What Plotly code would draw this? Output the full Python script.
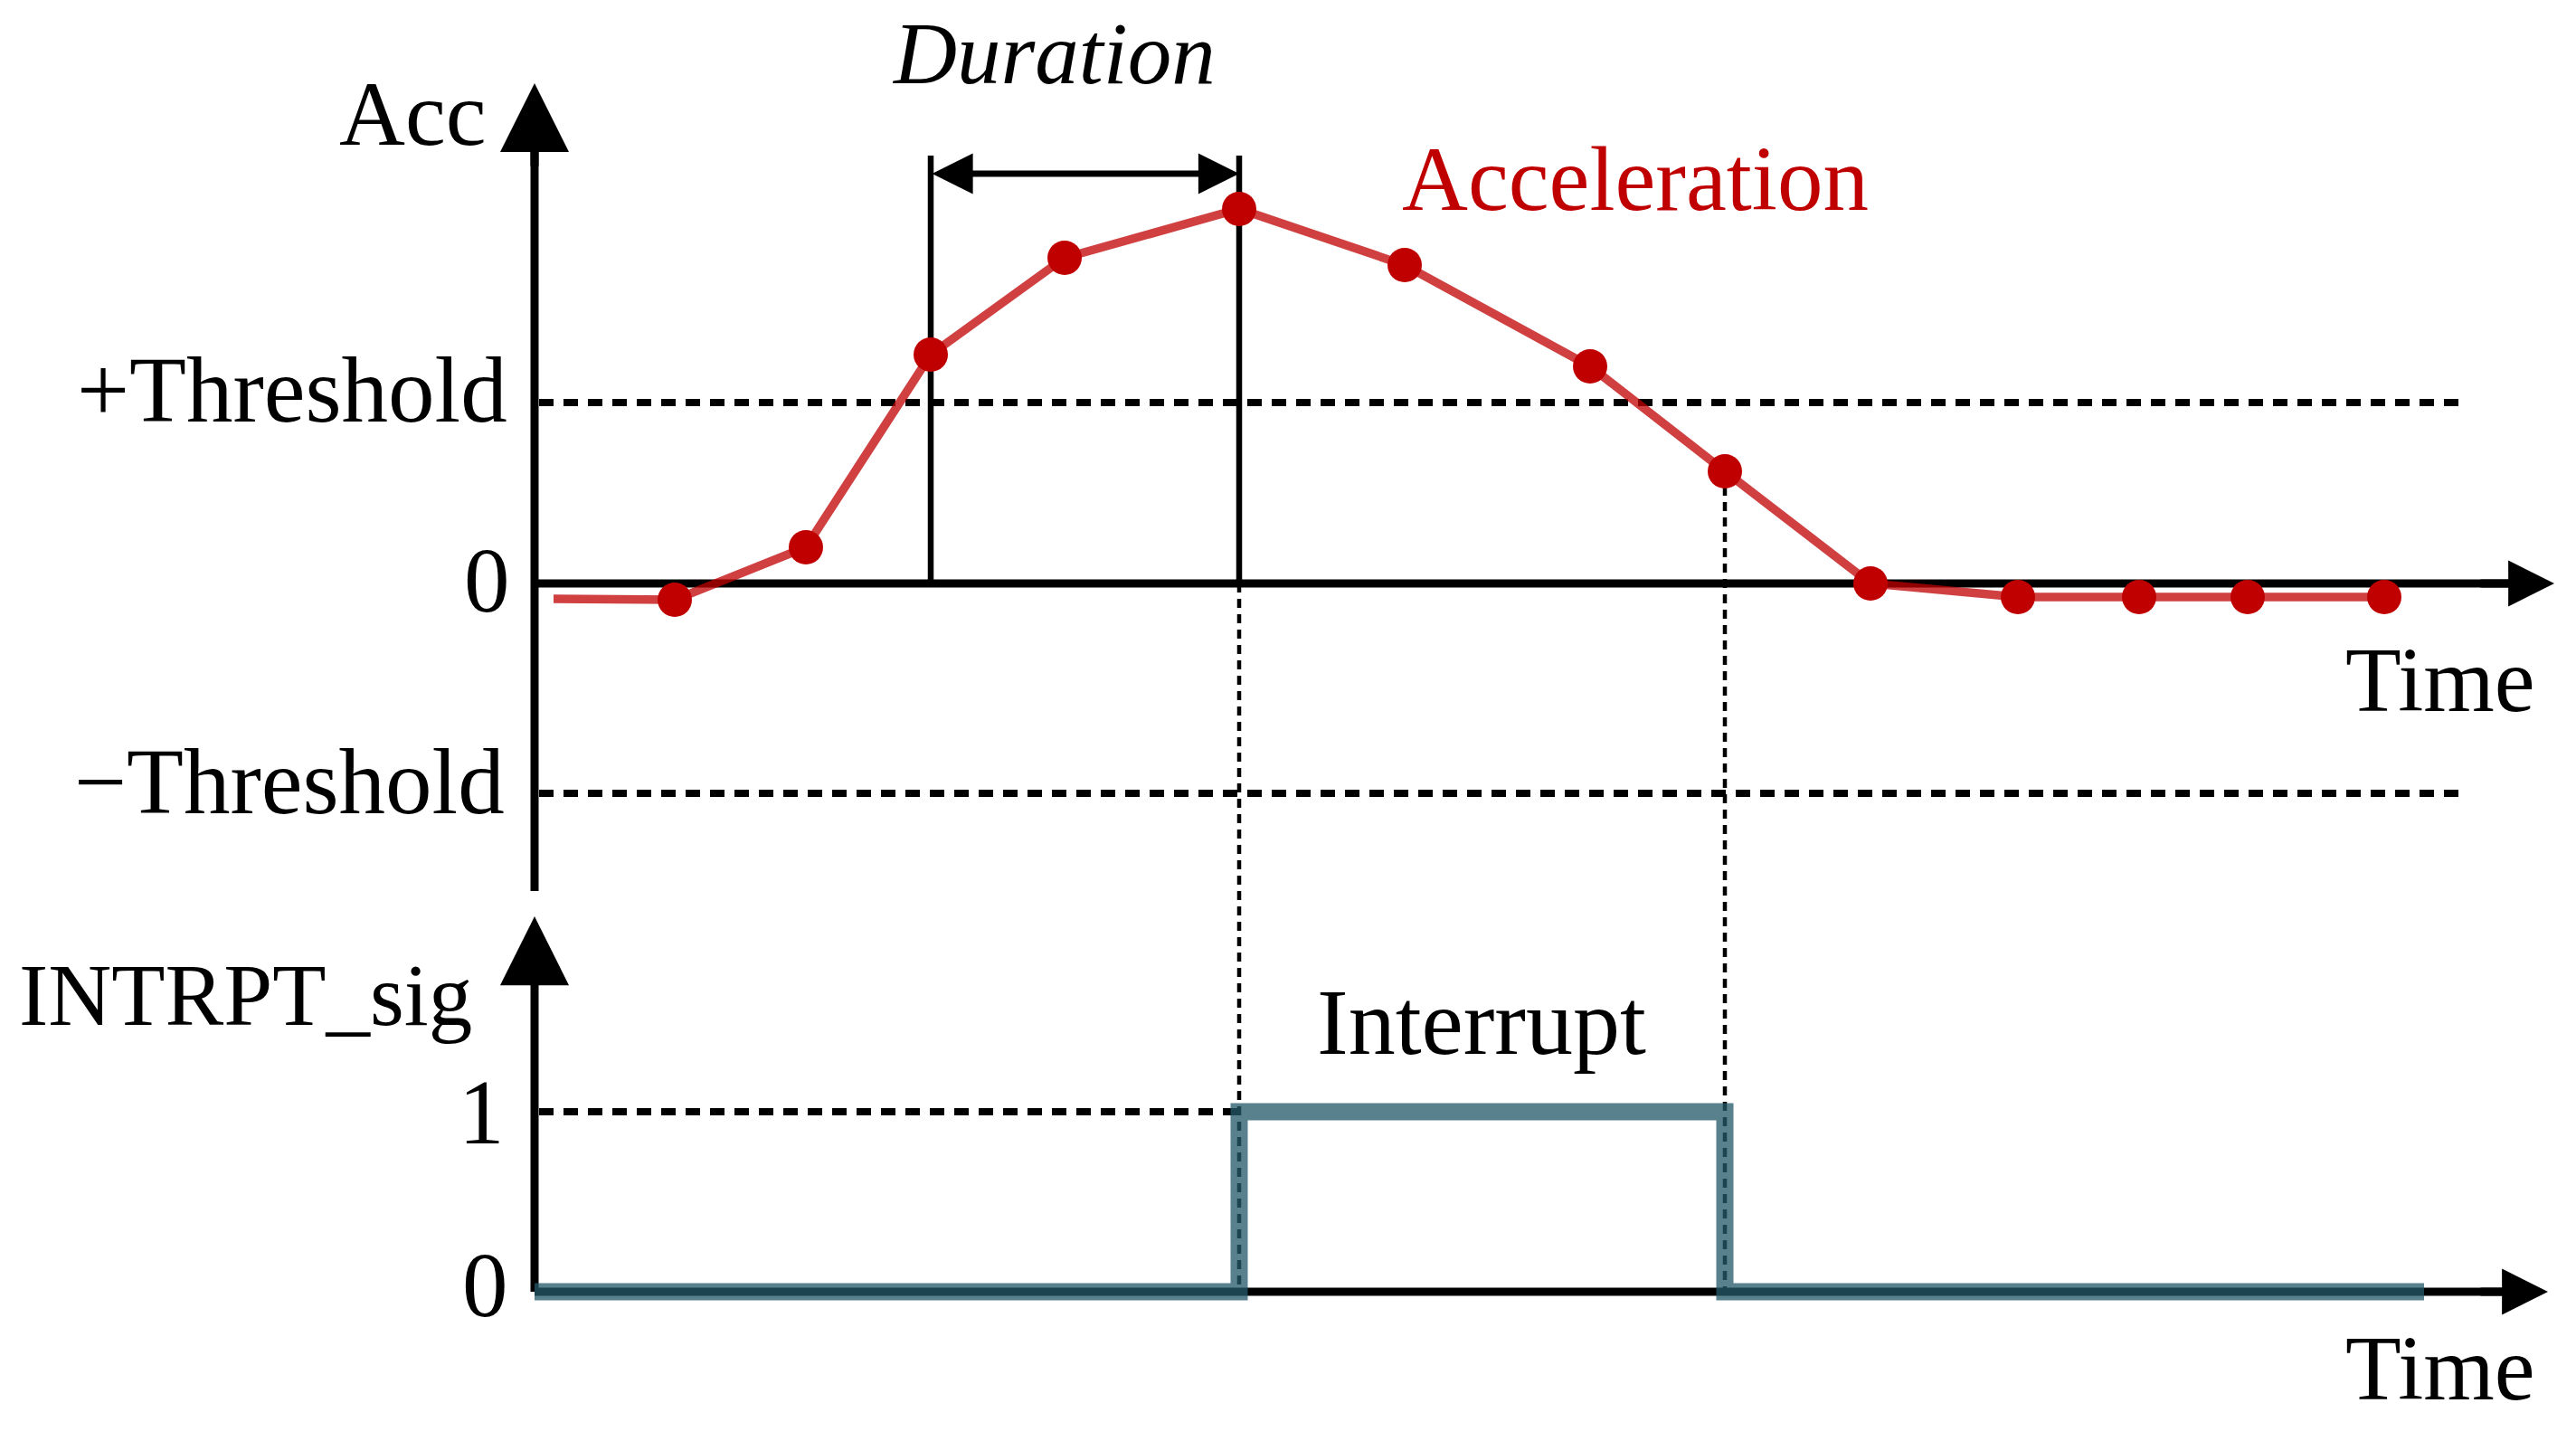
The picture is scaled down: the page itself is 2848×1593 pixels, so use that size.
import plotly.graph_objects as go

W, H = 2848, 1593

# ---------------- data ----------------
acc_time = [0.21, 1.55, 3.00, 4.38, 5.86, 7.79, 9.62, 11.67, 13.16, 14.77, 16.40, 17.74, 18.94, 20.45]
acc_value = [-0.085, -0.09, 0.20, 1.265, 1.80, 2.07, 1.76, 1.20, 0.62, 0.0, -0.075, -0.075, -0.075, -0.075]
threshold_pos = 1.0
threshold_neg = -1.16
acc_tick_vals = [threshold_pos, 0, threshold_neg]
acc_tick_text = ["+Threshold", "0", "\u2212Threshold"]
sig_tick_vals = [1, 0]
sig_tick_text = ["1", "0"]
duration_start = acc_time[3]
duration_end = acc_time[5]
interrupt_start = acc_time[5]
interrupt_end = acc_time[8]
sig_time = [0.0, interrupt_start, interrupt_end, 20.89]
sig_value = [0, 1, 0, 0]

# ---------------- axes ----------------
X_RANGE = [-5.91, 22.57]
Y_RANGE = [-4.74, 3.225]
Y2_RANGE = [-0.829, 7.176]


def sig_to_acc(v):
    f = (v - Y2_RANGE[0]) / (Y2_RANGE[1] - Y2_RANGE[0])
    return Y_RANGE[0] + f * (Y_RANGE[1] - Y_RANGE[0])


def px(x):
    return x / W


def py(y):
    return 1 - y / H


FONT = "Liberation Serif"
FS = 101
RED = "#C00000"

fig = go.Figure()
fig.add_trace(go.Scatter(x=acc_time, y=acc_value, mode="lines",
                         line=dict(color="rgba(192,0,0,0.75)", width=9.5),
                         hoverinfo="skip", showlegend=False))
fig.add_trace(go.Scatter(x=acc_time[1:], y=acc_value[1:], mode="markers",
                         marker=dict(color=RED, size=38, line=dict(width=0)),
                         hoverinfo="skip", showlegend=False))
fig.add_trace(go.Scatter(x=sig_time, y=sig_value, mode="lines", yaxis="y2",
                         line=dict(shape="hv", color="rgba(36,89,105,0.76)", width=19),
                         hoverinfo="skip", showlegend=False))

shapes = []


def line(x0, y0, x1, y1, yref="y", width=9, dash=None, color="black"):
    d = dict(type="line", xref="x", yref=yref, x0=x0, y0=y0, x1=x1, y1=y1,
             layer="below", line=dict(color=color, width=width))
    if dash:
        d["line"]["dash"] = dash
    shapes.append(d)


# axis lines
line(0, -1.70, 0, 2.60)
line(0, 0, 22.0, 0)
line(0, 0, 0, 1.95, yref="y2")
line(0, 0, 21.9, 0, yref="y2")
# threshold dotted lines
DOT = "16px,11px"
line(0.05, threshold_pos, 21.31, threshold_pos, width=8, dash=DOT)
line(0.05, threshold_neg, 21.31, threshold_neg, width=8, dash=DOT)
line(0.05, 1, interrupt_start, 1, yref="y2", width=8, dash=DOT)
# duration verticals
line(duration_start, 0, duration_start, 2.365, width=6.5)
line(duration_end, 0, duration_end, 2.365, width=6.5)
# dashed projections
DASH = "10px,7px"
line(interrupt_start, 0, interrupt_start, sig_to_acc(0), width=4.5, dash=DASH)
line(interrupt_end, acc_value[8], interrupt_end, sig_to_acc(0), width=4.5, dash=DASH)

annotations = []


def arrow(x, y, ax, ay, yref="y", width=9, size=1.0, both=False):
    a = dict(x=x, y=y, ax=ax, ay=ay, xref="x", yref=yref, axref="x", ayref=yref,
             text="", showarrow=True, arrowhead=2, arrowwidth=width, arrowsize=size,
             arrowcolor="black", standoff=0, startstandoff=0)
    if both:
        a.update(arrowside="end+start", startarrowhead=2, startarrowsize=size)
    annotations.append(a)


arrow(0, 2.765, 0, 2.3, size=1.69)
arrow(22.33, 0, 21.5, 0, size=1.13)
arrow(0, 2.085, 0, 1.7, yref="y2", size=1.69)
arrow(22.26, 0, 21.5, 0, yref="y2", size=1.13)
arrow(duration_end, 2.265, duration_start, 2.265, width=7, size=1.29, both=True)


def text(t, x, yb, anchor="right", color="black", size=FS):
    annotations.append(dict(x=px(x), y=py(yb - 0.34 * size), xref="paper", yref="paper",
                            text=t, showarrow=False, xanchor=anchor, yanchor="middle",
                            font=dict(family=FONT, size=size, color=color)))


text("Acc", 540, 160)
text(acc_tick_text[0], 563, 466, size=103)
text(acc_tick_text[1], 566, 676)
text(acc_tick_text[2], 560, 899, size=103)
text("INTRPT_sig", 524, 1133, size=97)
text(sig_tick_text[0], 560, 1264)
text(sig_tick_text[1], 564, 1455)
text("<i>Duration</i>", 1165, 92, anchor="center", size=97)
text("Acceleration", 1808, 232, anchor="center", color=RED)
text("Interrupt", 1638, 1165, anchor="center", size=104)
text("Time", 2805, 786)
text("Time", 2805, 1547)

fig.update_layout(
    width=W, height=H,
    margin=dict(l=0, r=0, t=0, b=0, pad=0),
    paper_bgcolor="white", plot_bgcolor="white",
    showlegend=False,
    xaxis=dict(range=X_RANGE, visible=False, domain=[0, 1]),
    yaxis=dict(range=Y_RANGE, visible=False, domain=[0, 1]),
    yaxis2=dict(range=Y2_RANGE, visible=False, overlaying="y"),
    shapes=shapes,
    annotations=annotations,
)

fig.write_html("out.html", config={"displayModeBar": False},
               post_script="document.body.style.margin='0';document.body.style.overflow='hidden';")
